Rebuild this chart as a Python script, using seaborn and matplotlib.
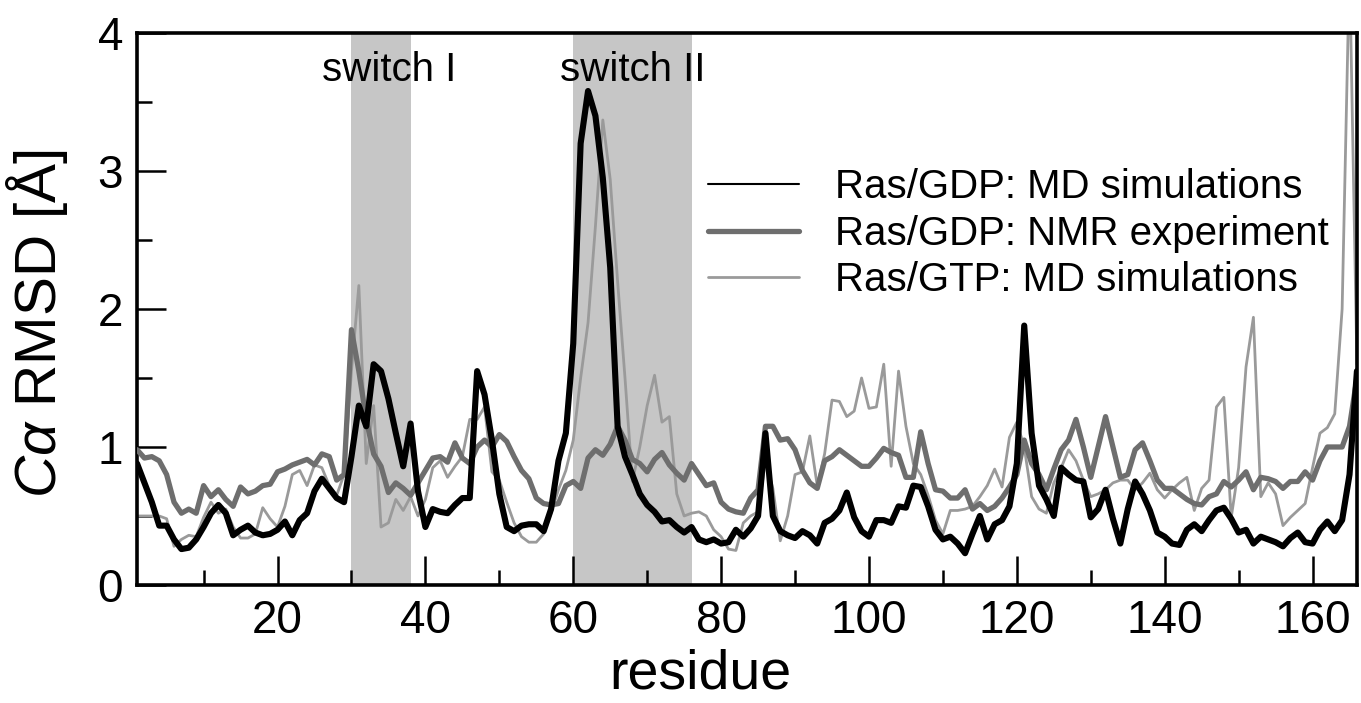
import numpy as np
import pandas as pd
import matplotlib
matplotlib.use("Agg")
import matplotlib.pyplot as plt
from matplotlib.lines import Line2D
from matplotlib.ticker import MultipleLocator
import seaborn as sns

residue = list(range(1, 167))

gdp_md = [0.88, 0.74, 0.6, 0.43, 0.43, 0.33, 0.26, 0.27, 0.33, 0.42,
          0.52, 0.58, 0.52, 0.36, 0.4, 0.43, 0.38, 0.36, 0.37, 0.4,
          0.46, 0.36, 0.47, 0.52, 0.68, 0.77, 0.7, 0.63, 0.6, 0.93,
          1.3, 1.15, 1.6, 1.55, 1.35, 1.1, 0.86, 1.17, 0.68, 0.42,
          0.55, 0.53, 0.52, 0.58, 0.63, 0.63, 1.55, 1.38, 1.05, 0.66,
          0.42, 0.39, 0.43, 0.44, 0.44, 0.39, 0.55, 0.9, 1.1, 1.75,
          3.2, 3.58, 3.4, 2.95, 2.3, 1.15, 0.93, 0.8, 0.66, 0.58,
          0.53, 0.46, 0.47, 0.42, 0.38, 0.42, 0.33, 0.31, 0.33, 0.3,
          0.31, 0.4, 0.35, 0.41, 0.5, 1.1, 0.5, 0.39, 0.36, 0.34,
          0.39, 0.36, 0.3, 0.45, 0.48, 0.54, 0.67, 0.49, 0.39, 0.35,
          0.47, 0.47, 0.45, 0.57, 0.56, 0.72, 0.71, 0.57, 0.4, 0.33,
          0.35, 0.3, 0.23, 0.37, 0.5, 0.33, 0.44, 0.47, 0.57, 0.88,
          1.88, 1.1, 0.72, 0.62, 0.5, 0.85, 0.8, 0.76, 0.75, 0.49,
          0.55, 0.69, 0.48, 0.3, 0.55, 0.75, 0.66, 0.54, 0.38, 0.35,
          0.3, 0.29, 0.4, 0.44, 0.39, 0.47, 0.54, 0.56, 0.48, 0.38,
          0.4, 0.3, 0.35, 0.33, 0.31, 0.28, 0.34, 0.38, 0.31, 0.3,
          0.4, 0.46, 0.39, 0.47, 0.8, 1.55]

gdp_nmr = [0.98, 0.92, 0.93, 0.9, 0.8, 0.6, 0.52, 0.55, 0.52, 0.72,
           0.64, 0.69, 0.62, 0.57, 0.71, 0.66, 0.68, 0.72, 0.73, 0.82,
           0.84, 0.87, 0.89, 0.91, 0.87, 0.95, 0.93, 0.76, 0.8, 1.85,
           1.55, 1.2, 0.95, 0.86, 0.67, 0.74, 0.7, 0.65, 0.74, 0.83,
           0.92, 0.93, 0.89, 1.03, 0.92, 0.88, 1.0, 1.05, 1.0, 1.09,
           1.04, 0.93, 0.83, 0.77, 0.63, 0.59, 0.58, 0.59, 0.72, 0.75,
           0.7, 0.92, 0.98, 0.94, 1.02, 1.15, 1.05, 0.91, 0.88, 0.82,
           0.91, 0.96, 0.87, 0.81, 0.76, 0.88, 0.8, 0.72, 0.74, 0.6,
           0.55, 0.53, 0.52, 0.63, 0.69, 1.15, 1.15, 1.05, 1.06, 0.98,
           0.83, 0.74, 0.7, 0.9, 0.93, 0.98, 0.94, 0.9, 0.86, 0.86,
           0.92, 0.99, 0.96, 0.94, 0.78, 0.78, 1.11, 0.88, 0.69, 0.68,
           0.63, 0.63, 0.69, 0.55, 0.59, 0.54, 0.57, 0.63, 0.71, 0.8,
           1.05, 0.88, 0.8, 0.69, 0.84, 0.98, 1.05, 1.2, 1.0, 0.78,
           1.0, 1.22, 1.0, 0.78, 0.8, 0.98, 1.03, 0.9, 0.76, 0.7,
           0.7, 0.66, 0.62, 0.59, 0.58, 0.64, 0.66, 0.75, 0.71, 0.76,
           0.82, 0.69, 0.78, 0.77, 0.75, 0.7, 0.75, 0.75, 0.82, 0.76,
           0.9, 1.0, 1.0, 1.0, 1.15, 1.5]

gtp_md = [0.5, 0.5, 0.5, 0.5, 0.48, 0.28, 0.33, 0.36, 0.35, 0.49,
          0.6, 0.52, 0.55, 0.42, 0.34, 0.34, 0.37, 0.56, 0.48, 0.42,
          0.57, 0.8, 0.83, 0.72, 0.87, 0.85, 0.72, 0.65, 0.8, 1.55,
          2.17, 0.88, 1.3, 0.42, 0.45, 0.62, 0.54, 0.64, 0.5, 0.62,
          0.85, 0.9, 0.78, 0.86, 0.93, 1.2, 1.2, 1.29, 0.82, 0.76,
          0.6, 0.45, 0.35, 0.31, 0.31, 0.37, 0.52, 0.69, 0.83, 1.05,
          1.5, 1.9, 2.6, 3.37, 2.94, 2.2, 1.5, 0.75, 1.0, 1.3,
          1.52, 1.18, 1.22, 0.66, 0.5, 0.52, 0.53, 0.5, 0.4, 0.35,
          0.26, 0.25, 0.45, 0.5, 0.53, 0.9, 0.7, 0.32, 0.5, 0.8,
          0.82, 1.08, 0.72, 0.95, 1.34, 1.33, 1.22, 1.26, 1.5, 1.28,
          1.29, 1.6, 0.86, 1.55, 1.15, 0.88, 0.8, 0.65, 0.47, 0.37,
          0.54, 0.54, 0.55, 0.57, 0.64, 0.72, 0.84, 0.71, 1.07, 1.18,
          1.0, 0.64, 0.55, 0.52, 0.74, 0.85, 0.98, 0.9, 0.76, 0.64,
          0.66, 0.69, 0.74, 0.76, 0.76, 0.69, 0.74, 0.81, 0.69, 0.63,
          0.69, 0.74, 0.78, 0.54, 0.7, 0.76, 1.29, 1.36, 0.49, 0.85,
          1.58, 1.94, 0.64, 0.74, 0.66, 0.43, 0.49, 0.54, 0.59, 0.85,
          1.1, 1.14, 1.24, 2.0, 4.5, 1.6]

series_labels = ["Ras/GDP: MD simulations", "Ras/GDP: NMR experiment",
                 "Ras/GTP: MD simulations"]
switch_regions = [(30, 38, "switch I"), (60, 76, "switch II")]
switch_label_x = [35.1, 68.1]

sns.set_style("ticks")
plt.rcParams["font.family"] = ["Liberation Sans", "DejaVu Sans"]
plt.rcParams["mathtext.fontset"] = "custom"
plt.rcParams["mathtext.it"] = "Liberation Sans:italic"
plt.rcParams["mathtext.rm"] = "Liberation Sans"
plt.rcParams["text.color"] = "black"
plt.rcParams["axes.labelcolor"] = "black"
plt.rcParams["xtick.color"] = "black"
plt.rcParams["ytick.color"] = "black"
plt.rcParams["axes.edgecolor"] = "black"

fig = plt.figure(figsize=(13.61, 7.03), dpi=100)
ax = fig.add_axes([0.1007, 0.1679, 0.8963, 0.7851])

for (x0, x1, name), lx in zip(switch_regions, switch_label_x):
    ax.axvspan(x0, x1, color="#c6c6c6", lw=0, zorder=0)
    ax.text(lx, 3.73, name, ha="center", va="center",
            fontsize=29, color="black")

df = pd.DataFrame({"residue": residue, "gdp_md": gdp_md,
                   "gdp_nmr": gdp_nmr, "gtp_md": gtp_md})

sns.lineplot(data=df, x="residue", y="gtp_md", ax=ax, color="#9a9a9a",
             lw=2.0, zorder=2)
sns.lineplot(data=df, x="residue", y="gdp_nmr", ax=ax, color="#6e6e6e",
             lw=3.8, zorder=3)
sns.lineplot(data=df, x="residue", y="gdp_md", ax=ax, color="black",
             lw=4.4, zorder=4)

ax.set_xlim(1, 166)
ax.set_ylim(0, 4)
ax.xaxis.set_major_locator(MultipleLocator(20))
ax.xaxis.set_minor_locator(MultipleLocator(10))
ax.yaxis.set_major_locator(MultipleLocator(1))
ax.yaxis.set_minor_locator(MultipleLocator(0.5))
ax.tick_params(which="major", direction="in", length=21, width=1.8,
               labelsize=33, pad=10, top=False, right=False)
ax.tick_params(which="minor", direction="in", length=10.5, width=1.8,
               top=False, right=False)
for sp in ax.spines.values():
    sp.set_linewidth(2.6)
    sp.set_visible(True)

ax.set_xlabel("residue", fontsize=40)
ax.set_ylabel(r"$C\alpha$ RMSD [Å]", fontsize=42)
ax.xaxis.set_label_coords(0.462, -0.115)
ax.yaxis.set_label_coords(-0.055, 0.473)

handles = [Line2D([], [], color="black", lw=1.5),
           Line2D([], [], color="#6e6e6e", lw=3.8),
           Line2D([], [], color="#9a9a9a", lw=2.0)]
leg = ax.legend(handles, series_labels, loc="upper left",
                bbox_to_anchor=(0.468, 0.755), frameon=False, fontsize=29,
                handlelength=2.25, handletextpad=0.9, labelspacing=0.21,
                borderaxespad=0, borderpad=0)

fig.savefig("out.png", dpi=100)
